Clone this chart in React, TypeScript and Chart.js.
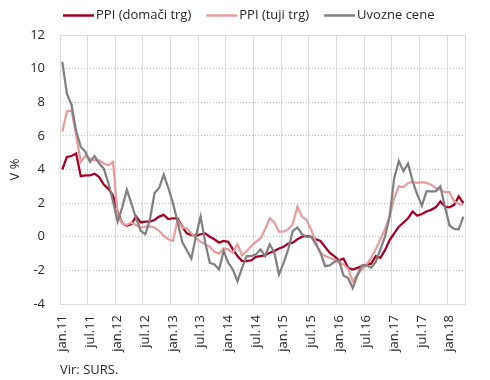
import React, { useEffect, useRef } from 'react';
import { Chart, registerables } from 'chart.js';

Chart.register(...registerables);

// ---- data ----
const monthNames = ['jan', 'feb', 'mar', 'apr', 'maj', 'jun', 'jul', 'avg', 'sep', 'okt', 'nov', 'dec'];
const yearSuffixes = ['11', '12', '13', '14', '15', '16', '17', '18'];
const categories = yearSuffixes.flatMap((y) => monthNames.map((m) => `${m}.${y}`)).slice(0, 88);

const seriesNames = ['PPI (domači trg)', 'PPI (tuji trg)', 'Uvozne cene'];

const ppiDomaci = [
  4.0, 4.75, 4.8, 4.95, 3.6, 3.65, 3.65, 3.75, 3.55, 3.1,
  2.85, 2.45, 1.45, 0.8, 0.65, 0.75, 1.2, 0.85, 0.9, 0.9,
  1.0, 1.2, 1.3, 1.05, 1.1, 1.1, 0.6, 0.2, 0.1, 0.05,
  0.15, 0.2, 0.0, -0.15, -0.35, -0.25, -0.3, -0.75, -1.15, -1.45,
  -1.45, -1.4, -1.2, -1.15, -1.1, -0.95, -0.85, -0.7, -0.6, -0.4,
  -0.35, -0.15, 0.0, 0.05, 0.0, -0.15, -0.25, -0.6, -0.95, -1.15,
  -1.4, -1.3, -1.85, -1.95, -1.85, -1.75, -1.65, -1.6, -1.15, -1.25,
  -0.8, -0.2, 0.2, 0.6, 0.85, 1.1, 1.5, 1.25, 1.35, 1.5,
  1.6, 1.75, 2.1, 1.8, 1.75, 1.9, 2.4, 2.0,
];

const ppiTuji = [
  6.25, 7.45, 7.5, 6.05, 4.45, 4.8, 4.65, 4.55, 4.55, 4.35,
  4.25, 4.45, 1.3, 0.8, 0.7, 0.85, 0.7, 0.55, 0.6, 0.6,
  0.55, 0.35, 0.05, -0.15, -0.25, 1.0, 0.55, 0.5, 0.2, -0.1,
  -0.3, -0.45, -0.6, -0.9, -1.0, -0.7, -0.75, -0.95, -0.45, -1.1,
  -0.85, -0.55, -0.3, -0.1, 0.45, 1.1, 0.85, 0.3, 0.3, 0.45,
  0.75, 1.8, 1.2, 1.0, 0.4, -0.35, -0.95, -1.15, -1.25, -1.35,
  -1.55, -1.65, -1.9, -2.65, -2.25, -1.95, -1.65, -1.25, -0.75, -0.15,
  0.45, 1.2, 2.3, 3.0, 2.95, 3.2, 3.25, 3.2, 3.25, 3.2,
  3.1, 2.9, 2.8, 2.65, 2.65, 2.1, 1.95, 1.9,
];

const uvozneCene = [
  10.4, 8.5, 7.85, 6.3, 5.35, 5.05, 4.45, 4.8, 4.35, 4.05,
  3.2, 2.1, 0.9, 1.75, 2.8, 1.95, 1.1, 0.35, 0.15, 1.0,
  2.6, 2.9, 3.7, 2.9, 2.0, 0.9, -0.3, -0.8, -1.3, 0.05,
  1.2, -0.35, -1.55, -1.65, -1.95, -0.85, -1.55, -1.95, -2.65, -1.85,
  -1.15, -1.15, -1.05, -0.75, -1.15, -0.45, -0.95, -2.25, -1.55, -0.75,
  0.35, 0.55, 0.15, 0.0, 0.0, -0.45, -0.95, -1.75, -1.7, -1.5,
  -1.4, -2.3, -2.45, -3.05, -2.3, -1.7, -1.7, -1.85, -1.5, -0.75,
  0.0, 1.2, 3.5, 4.5, 3.9, 4.35, 3.3, 2.5, 1.85, 2.7,
  2.7, 2.7, 3.0, 1.8, 0.67, 0.47, 0.44, 1.2,
];

const yMin = -4;
const yMax = 12;
const yStep = 2;
const labelEvery = 6;
const sourceNote = 'Vir: SURS.';
const yTitle = 'V %';

// ---- styles ----
const FONT = '"Open Sans", "DejaVu Sans", sans-serif';
const TEXT = '#262626';
const GRID = '#d9d9d9';
const colors = ['#a50021', '#e79c9c', '#808080'];

const framePlugin = {
  id: 'frame',
  beforeDatasetsDraw(chart: any) {
    const { ctx, chartArea } = chart;
    ctx.save();
    ctx.strokeStyle = GRID;
    ctx.lineWidth = 1;
    ctx.strokeRect(
      Math.round(chartArea.left) + 0.5,
      Math.round(chartArea.top) + 0.5,
      Math.round(chartArea.right - chartArea.left) - 1,
      Math.round(chartArea.bottom - chartArea.top)
    );
    ctx.restore();
  },
  afterDraw(chart: any) {
    const { ctx } = chart;
    ctx.save();
    // legend
    ctx.font = `13px ${FONT}`;
    ctx.textBaseline = 'middle';
    ctx.textAlign = 'left';
    let x = 63;
    const y = 15.5;
    chart.data.datasets.forEach((ds: any) => {
      ctx.strokeStyle = ds.borderColor;
      ctx.lineWidth = 2.5;
      ctx.beginPath();
      ctx.moveTo(x, y);
      ctx.lineTo(x + 31, y);
      ctx.stroke();
      x += 33;
      ctx.fillStyle = TEXT;
      ctx.fillText(ds.label, x, y);
      x += ctx.measureText(ds.label).width + 15;
    });
    // source
    ctx.textBaseline = 'alphabetic';
    ctx.fillText(sourceNote, 60, 373.5);
    ctx.restore();
  },
};

export default function App() {
  const ref = useRef<HTMLCanvasElement | null>(null);

  useEffect(() => {
    if (!ref.current) return;
    const chart = new Chart(ref.current, {
      type: 'line',
      data: {
        labels: categories,
        datasets: [
          { label: seriesNames[0], data: ppiDomaci, borderColor: colors[0], backgroundColor: colors[0], order: 3 },
          { label: seriesNames[1], data: ppiTuji, borderColor: colors[1], backgroundColor: colors[1], order: 2 },
          { label: seriesNames[2], data: uvozneCene, borderColor: colors[2], backgroundColor: colors[2], order: 1 },
        ].map((d) => ({ ...d, borderWidth: 2.25, pointRadius: 0, tension: 0, fill: false })),
      },
      options: {
        animation: false,
        responsive: true,
        maintainAspectRatio: false,
        layout: { padding: { left: 0, right: 6, top: 35, bottom: 0 } },
        plugins: { legend: { display: false }, tooltip: { enabled: false } },
        scales: {
          x: {
            type: 'category',
            offset: true,
            grid: {
              offset: true,
              drawTicks: false,
              color: (c: any) =>
                c.index % labelEvery === 0 && c.index > 0 && c.index < categories.length ? GRID : 'rgba(0,0,0,0)',
            },
            border: { display: false },
            ticks: {
              autoSkip: false,
              maxRotation: 90,
              minRotation: 90,
              padding: 11,
              color: TEXT,
              font: { family: FONT, size: 13 },
              callback: (_v: any, i: number) => (i % labelEvery === 0 ? categories[i] : ''),
            },
            afterFit: (s: any) => {
              s.height = 76;
            },
          },
          y: {
            min: yMin,
            max: yMax,
            ticks: { stepSize: yStep, padding: 15, color: TEXT, font: { family: FONT, size: 13 } },
            grid: {
              drawTicks: false,
              color: (c: any) =>
                c.tick && (c.tick.value === yMin || c.tick.value === yMax) ? 'rgba(0,0,0,0)' : '#bdbdbd',
            },
            border: { display: false, dash: [1, 2] },
            title: {
              display: true,
              text: yTitle,
              color: TEXT,
              font: { family: FONT, size: 13 },
              padding: { top: 7, bottom: 4 },
            },
            afterFit: (s: any) => {
              s.width = 60;
            },
          },
        },
      },
      plugins: [framePlugin],
    });
    return () => chart.destroy();
  }, []);

  return (
    <div style={{ position: 'absolute', left: 0, top: 0, width: 490, height: 380, background: '#fff' }}>
      <canvas ref={ref} />
    </div>
  );
}
